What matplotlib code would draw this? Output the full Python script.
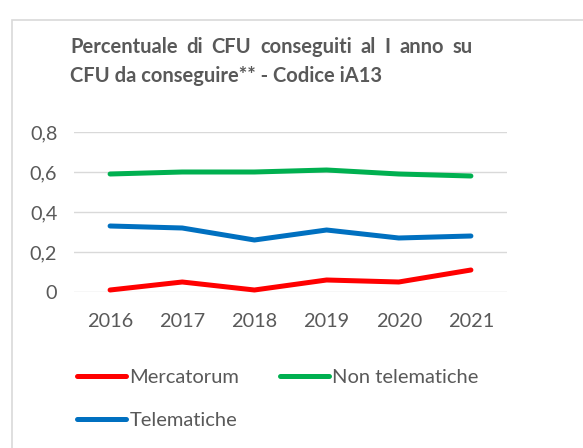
import matplotlib.pyplot as plt
from matplotlib.patches import Rectangle
from matplotlib.ticker import FuncFormatter

years = ["2016", "2017", "2018", "2019", "2020", "2021"]
mercatorum = [0.01, 0.05, 0.01, 0.06, 0.05, 0.11]
non_telematiche = [0.59, 0.60, 0.60, 0.61, 0.59, 0.58]
telematiche = [0.33, 0.32, 0.26, 0.31, 0.27, 0.28]

title_line1 = ["Percentuale", "di", "CFU", "conseguiti", "al", "I", "anno", "su"]
title_line2 = "CFU da conseguire** - Codice iA13"

grey = "#595959"
plt.rcParams['font.family'] = ['Lato', 'DejaVu Sans']

W, H = 583, 448
fig = plt.figure(figsize=(W / 100, H / 100), dpi=100)

# chart frame
fig.add_artist(Rectangle((12 / W, 1 - 600 / H), 700 / W, 580 / H,
                         transform=fig.transFigure, fill=False,
                         edgecolor="#D9D9D9", linewidth=1.2))

ax = fig.add_axes([74 / W, 1 - 292 / H, 433 / W, 160 / H])
x = range(len(years))
l1, = ax.plot(x, mercatorum, color="#FF0000", lw=3.6, solid_capstyle="round", label="Mercatorum", clip_on=False)
l2, = ax.plot(x, non_telematiche, color="#00B050", lw=3.6, solid_capstyle="round", label="Non telematiche", clip_on=False)
l3, = ax.plot(x, telematiche, color="#0070C0", lw=3.6, solid_capstyle="round", label="Telematiche", clip_on=False)

ax.set_xlim(-0.5, 5.5)
ax.set_ylim(0, 0.8)
ax.set_yticks([0, 0.2, 0.4, 0.6, 0.8])
ax.yaxis.set_major_formatter(FuncFormatter(lambda v, p: "0" if v == 0 else f"{v:.1f}".replace(".", ",")))
ax.set_xticks(list(x))
ax.set_xticklabels(years)
ax.grid(axis="y", color="#D9D9D9", lw=1)
ax.set_axisbelow(True)
for s in ax.spines.values():
    s.set_visible(False)
ax.tick_params(length=0, labelsize=14.3, colors=grey)
ax.tick_params(axis="y", pad=12)
ax.tick_params(axis="x", pad=15)

# title, first line justified
fs = 14.5
x0, x1 = 70 / W, 473 / W
texts = [fig.text(0, 1 - 53 / H, w, fontsize=fs, fontweight="bold", color=grey) for w in title_line1]
fig.canvas.draw()
r = fig.canvas.get_renderer()
widths = [t.get_window_extent(r).width / W for t in texts]
gap = (x1 - x0 - sum(widths)) / (len(texts) - 1)
pos = x0
for t, w in zip(texts, widths):
    t.set_x(pos)
    pos += w + gap
fig.text(x0, 1 - 82 / H, title_line2, fontsize=fs, fontweight="bold", color=grey)

# legend filled row by row: Mercatorum, Non telematiche / Telematiche
fig.legend([l1, l3, l2], ["Mercatorum", "Telematiche", "Non telematiche"],
           loc="upper left", bbox_to_anchor=(67 / W, 1 - 359 / H), ncol=2, frameon=False,
           fontsize=14.5, handlelength=2.45, handletextpad=0.15, columnspacing=2.0,
           labelspacing=1.3, borderpad=0, labelcolor=grey)

fig.savefig("out.png", dpi=100)
